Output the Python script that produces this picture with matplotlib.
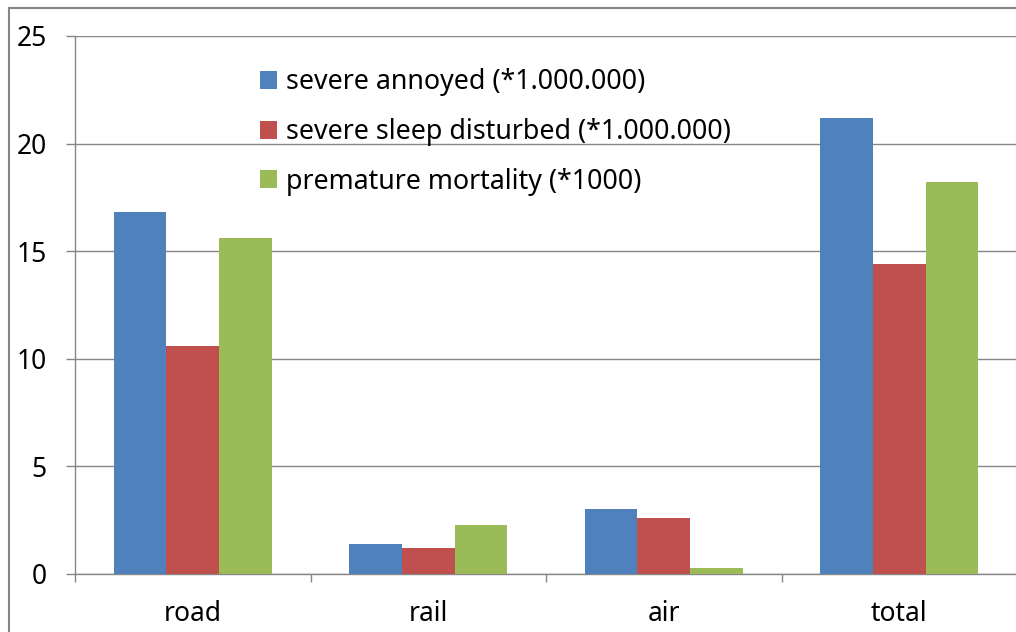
import numpy as np
import matplotlib
matplotlib.use('Agg')
import matplotlib.pyplot as plt
from matplotlib.patches import Rectangle, Patch

plt.rcParams['font.family'] = ['Noto Sans', 'DejaVu Sans']

# donnees
categories = ['road', 'rail', 'air', 'total']
annoyed = [16.8, 1.4, 3.0, 21.2]
sleep = [10.6, 1.2, 2.6, 14.4]
mortality = [15.6, 2.3, 0.3, 18.2]
labels = ['severe annoyed (*1.000.000)',
          'severe sleep disturbed (*1.000.000)',
          'premature mortality (*1000)']
colors = ['#4F81BD', '#C0504D', '#9BBB59']
grey = '#868686'

fig = plt.figure(figsize=(10.16, 6.32), dpi=100)
ax = fig.add_axes([75/1016, 1-574/632, 942/1016, 538/632])

x = np.arange(len(categories))
w = 0.224
for i, serie in enumerate([annoyed, sleep, mortality]):
    ax.bar(x + (i-1)*w, serie, width=w, color=colors[i], zorder=3)

ax.set_xlim(-0.5, 3.5)
ax.set_ylim(0, 25)
ax.set_yticks(np.arange(0, 26, 5))
ax.yaxis.grid(True, color=grey, linewidth=1)
ax.set_axisbelow(True)

# ticks en x aux limites des categories, etiquettes au centre
ax.set_xticks(np.arange(-0.5, 4, 1))
ax.set_xticklabels([])
ax.set_xticks(x, minor=True)
ax.set_xticklabels(categories, minor=True)
ax.tick_params(axis='x', which='major', length=6, color=grey, width=1)
ax.tick_params(axis='x', which='minor', length=0, pad=19, labelsize=19)
ax.tick_params(axis='y', length=6.5, color=grey, width=1, pad=14, labelsize=19)

for s in ['top', 'right']:
    ax.spines[s].set_visible(False)
for s in ['left', 'bottom']:
    ax.spines[s].set_color(grey)
    ax.spines[s].set_linewidth(1)

handles = [Patch(facecolor=c) for c in colors]
ax.legend(handles, labels, loc='upper left', bbox_to_anchor=(0.196, 0.94),
          frameon=False, fontsize=19.3, handlelength=0.66, handleheight=0.66,
          handletextpad=0.33, labelspacing=0.81, borderpad=0, borderaxespad=0)

# cadre exterieur du graphique
fig.patches.append(Rectangle((9/1016, -0.1), 1.2, 1.1 - 8/632, transform=fig.transFigure,
                             fill=False, edgecolor=grey, linewidth=1.5))

fig.savefig('out.png', dpi=100)
